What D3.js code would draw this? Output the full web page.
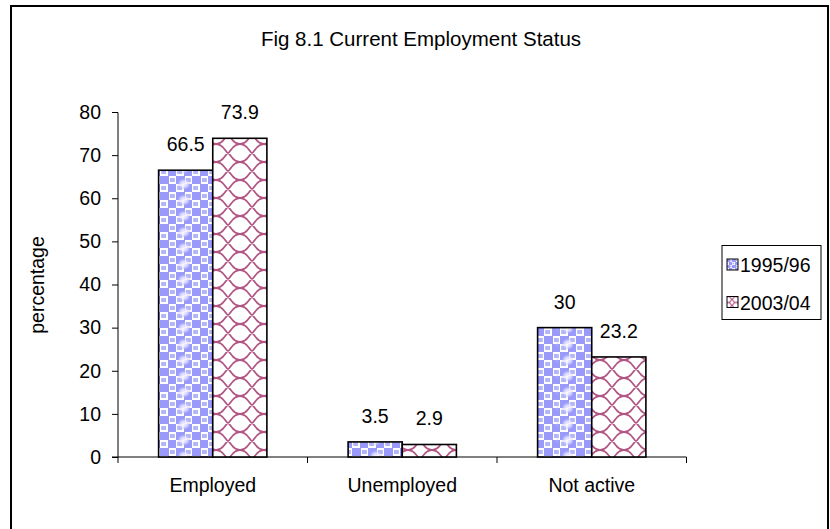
<!DOCTYPE html>
<html>
<head>
<meta charset="utf-8">
<script src="https://cdn.jsdelivr.net/npm/d3@7"></script>
<style>
  html, body { margin: 0; padding: 0; background: #fff; }
  svg text { font-family: "Liberation Sans", Arial, sans-serif; fill: #000; }
</style>
</head>
<body>
<svg id="chart" width="830" height="529"></svg>
<script>
// Chart data
const categories = ["Employed", "Unemployed", "Not active"];
const seriesNames = ["1995/96", "2003/04"];
const values1995 = [66.5, 3.5, 30];
const values2003 = [73.9, 2.9, 23.2];
const yTicks = [0, 10, 20, 30, 40, 50, 60, 70, 80];
const titleText = "Fig 8.1 Current Employment Status";
const yAxisTitle = "percentage";

const svg = d3.select("#chart");
const defs = svg.append("defs");

// Blue checkered fill
function bluePattern(id, s) {
  const p = defs.append("pattern").attr("id", id)
    .attr("patternUnits", "userSpaceOnUse").attr("width", 2 * s).attr("height", 2 * s);
  p.append("rect").attr("width", 2 * s).attr("height", 2 * s).attr("fill", "#ffffff");
  p.append("rect").attr("x", 0).attr("y", 0).attr("width", s + 1).attr("height", s).attr("fill", "#9a9afa");
  p.append("rect").attr("x", s).attr("y", s).attr("width", s).attr("height", s).attr("fill", "#9a9afa");
  p.append("rect").attr("x", s * 1.25).attr("y", s * 0.25).attr("width", s * 0.6).attr("height", s * 0.5).attr("fill", "#b4b4fb");
  p.append("rect").attr("x", s * 0.15).attr("y", s * 1.25).attr("width", s * 0.6).attr("height", s * 0.5).attr("fill", "#b4b4fb");
}
bluePattern("fillBlue", 8);
bluePattern("fillBlueSmall", 3);

// Soft bubbles running down the middle of the blue bars
const rg = defs.append("radialGradient").attr("id", "bubble");
rg.append("stop").attr("offset", "0%").attr("stop-color", "#ffffff").attr("stop-opacity", 0.95);
rg.append("stop").attr("offset", "60%").attr("stop-color", "#e0e0ff").attr("stop-opacity", 0.7);
rg.append("stop").attr("offset", "100%").attr("stop-color", "#9c9cfa").attr("stop-opacity", 0);
const pBub = defs.append("pattern").attr("id", "fillBubble")
  .attr("patternUnits", "userSpaceOnUse").attr("width", 16).attr("height", 16);
pBub.append("ellipse").attr("cx", 8).attr("cy", 8).attr("rx", 7).attr("ry", 6).attr("fill", "url(#bubble)");

// Maroon ogee lattice fill
function pinkPattern(id, w, h, sw) {
  const p = defs.append("pattern").attr("id", id)
    .attr("patternUnits", "userSpaceOnUse").attr("width", w).attr("height", h);
  p.append("rect").attr("width", w).attr("height", h).attr("fill", "#ffffff");
  const a = w / 2, b = h / 2, c = w / 3;
  p.append("path")
    .attr("d", `M0,0 C${c},0 ${a - c / 4},${b} ${a},${b} C${a + c / 4},${b} ${w - c},${h} ${w},${h} ` +
               `M${w},0 C${w - c},0 ${a + c / 4},${b} ${a},${b} C${a - c / 4},${b} ${c},${h} 0,${h}`)
    .attr("fill", "none").attr("stroke", "#a3386e").attr("stroke-width", sw).attr("opacity", 0.85);
}
pinkPattern("fillPink", 24, 18, 1.8);
pinkPattern("fillPinkSmall", 8, 6, 1.1);

// Outer chart frame
svg.append("rect").attr("x", 11).attr("y", 6).attr("width", 817).attr("height", 540)
  .attr("fill", "none").attr("stroke", "#000").attr("stroke-width", 2);

// Scales
const y = d3.scaleLinear().domain([0, 80]).range([457, 112]);
const x0 = d3.scaleBand().domain(categories).range([118, 686.5]).padding(0);
const x1 = d3.scaleBand().domain(seriesNames).range([0, x0.bandwidth()])
  .paddingInner(0).paddingOuter(0.75);

const fills = { "1995/96": "url(#fillBlue)", "2003/04": "url(#fillPink)" };
const swatchFills = { "1995/96": "url(#fillBlueSmall)", "2003/04": "url(#fillPinkSmall)" };
const seriesData = seriesNames.map((s, i) => ({
  name: s, values: i === 0 ? values1995 : values2003
}));

// Title
svg.append("text").attr("x", 421).attr("y", 46).attr("text-anchor", "middle")
  .attr("font-size", 20.5).text(titleText);

// Y axis
const yAxis = d3.axisLeft(y).tickValues(yTicks).tickSize(6).tickPadding(11).tickFormat(d3.format("d"));
const gy = svg.append("g").attr("transform", "translate(118,0)").call(yAxis);
gy.select(".domain").attr("stroke", "#000").attr("stroke-width", 1).attr("d", "M-6,112.5H0V457");
gy.selectAll(".tick line").attr("stroke", "#000");
gy.selectAll(".tick text").attr("font-size", 19.5).attr("font-family", "Liberation Sans, Arial, sans-serif").attr("fill", "#000");
gy.selectAll(".tick").filter(d => d === 80).select("line").remove();

// X axis (category boundaries get small ticks below the baseline)
const gx = svg.append("g");
gx.append("line").attr("x1", 112).attr("x2", x0.range()[1]).attr("y1", 457).attr("y2", 457)
  .attr("stroke", "#000").attr("stroke-width", 1);
const bounds = categories.map(c => x0(c)).concat([x0.range()[1]]);
gx.selectAll("line.bt").data(bounds).join("line").attr("class", "bt")
  .attr("x1", d => d).attr("x2", d => d).attr("y1", 457).attr("y2", 463)
  .attr("stroke", "#000");
gx.selectAll("text.cat").data(categories).join("text").attr("class", "cat")
  .attr("x", d => x0(d) + x0.bandwidth() / 2).attr("y", 492)
  .attr("text-anchor", "middle").attr("font-size", 19.5).text(d => d);

// Y axis title
svg.append("text").attr("transform", "translate(44,285) rotate(-90)")
  .attr("text-anchor", "middle").attr("font-size", 19.5).text(yAxisTitle);

// Bars
const groups = svg.selectAll("g.series").data(seriesData).join("g").attr("class", "series");
groups.each(function (s) {
  const g = d3.select(this);
  const rows = categories.map((c, i) => ({ c, v: s.values[i] }));
  g.selectAll("rect.bar").data(rows).join("rect").attr("class", "bar")
    .attr("x", d => x0(d.c) + x1(s.name))
    .attr("y", d => y(d.v))
    .attr("width", x1.bandwidth())
    .attr("height", d => y(0) - y(d.v))
    .attr("fill", fills[s.name]);
  if (s.name === "1995/96") {
    g.selectAll("rect.bub").data(rows).join("rect").attr("class", "bub")
      .attr("x", d => x0(d.c) + x1(s.name) + x1.bandwidth() / 2 - 8)
      .attr("y", d => y(d.v))
      .attr("width", 16)
      .attr("height", d => y(0) - y(d.v))
      .attr("fill", "url(#fillBubble)");
  }
  g.selectAll("rect.edge").data(rows).join("rect").attr("class", "edge")
    .attr("x", d => x0(d.c) + x1(s.name))
    .attr("y", d => y(d.v))
    .attr("width", x1.bandwidth())
    .attr("height", d => y(0) - y(d.v))
    .attr("fill", "none").attr("stroke", "#000").attr("stroke-width", 1.6);
  g.selectAll("text.val").data(rows).join("text").attr("class", "val")
    .attr("x", d => x0(d.c) + x1(s.name) + x1.bandwidth() / 2)
    .attr("y", d => y(d.v) - 19)
    .attr("text-anchor", "middle").attr("font-size", 19.5)
    .text(d => d.v);
});

// Legend
const lg = svg.append("g");
lg.append("rect").attr("x", 722).attr("y", 245.5).attr("width", 99).attr("height", 74)
  .attr("fill", "#fff").attr("stroke", "#000").attr("stroke-width", 1);
const items = lg.selectAll("g.item").data(seriesNames).join("g").attr("class", "item")
  .attr("transform", (d, i) => `translate(0,${265 + i * 37.5})`);
items.append("rect").attr("x", 727).attr("y", -6).attr("width", 11).attr("height", 11)
  .attr("fill", d => swatchFills[d]).attr("stroke", "#000").attr("stroke-width", 1);
items.append("text").attr("x", 740).attr("y", 7).attr("font-size", 19.5).text(d => d);
</script>
</body>
</html>
